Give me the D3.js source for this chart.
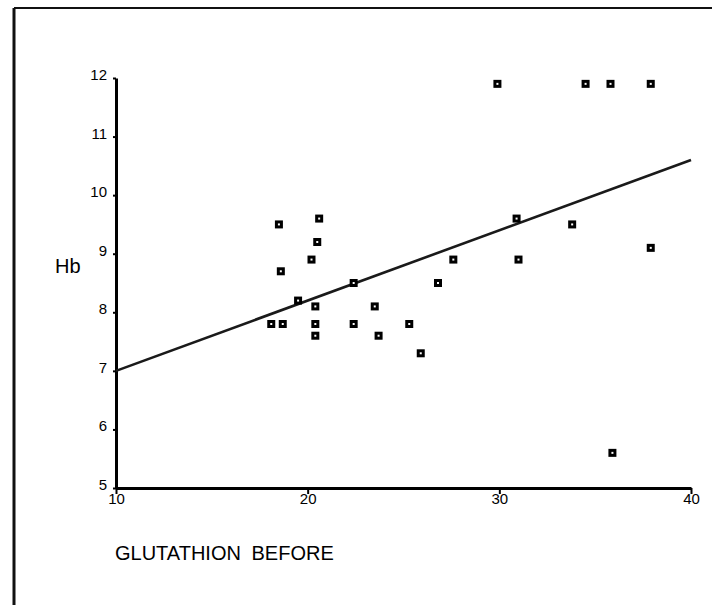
<!DOCTYPE html>
<html>
<head>
<meta charset="utf-8">
<script src="https://cdn.jsdelivr.net/npm/d3@7"></script>
<style>
  body { margin: 0; background: #fff; }
  svg { display: block; font-family: "Liberation Sans", Arial, sans-serif; }
  .axis .domain { stroke: #000; stroke-width: 3; }
  .axis line { stroke: #000; stroke-width: 2; }
  .axis text { fill: #000; font-size: 15px; }
</style>
</head>
<body>
<svg width="712" height="605"></svg>
<script>
// glutathion before vs Hb
const glutathion = [18.5, 18.6, 20.6, 20.5, 20.2, 19.5, 20.4, 18.1, 18.7, 20.4, 20.4, 22.4, 22.4,
                    29.9, 34.5, 35.8, 37.9, 30.9, 33.8, 37.9, 27.6, 31.0, 26.8, 23.5, 25.3, 23.7, 25.9, 35.9]
const hb = [9.5, 8.7, 9.6, 9.2, 8.9, 8.2, 8.1, 7.8, 7.8, 7.8, 7.6, 7.8, 8.5,
            11.9, 11.9, 11.9, 11.9, 9.6, 9.5, 9.1, 8.9, 8.9, 8.5, 8.1, 7.8, 7.6, 7.3, 5.6]

// fitted line end points
const fitX = [10, 40]
const fitY = [7.0, 10.6]

const xTicks = [10, 20, 30, 40]
const yTicks = [5, 6, 7, 8, 9, 10, 11, 12]

var svg = d3.select("svg")

// scan frame (top and left edges)
svg.append("line").attr("x1", 14).attr("y1", 8).attr("x2", 712).attr("y2", 8)
    .attr("stroke", "#111").attr("stroke-width", 2)
svg.append("line").attr("x1", 14).attr("y1", 8).attr("x2", 14).attr("y2", 605)
    .attr("stroke", "#111").attr("stroke-width", 3)

var x = d3.scaleLinear().domain([10, 40]).range([116, 691])
var y = d3.scaleLinear().domain([5, 12]).range([488, 78])

var yAxis = svg.append("g")
    .attr("class", "axis")
    .attr("transform", "translate(116,0)")
    .call(d3.axisLeft(y).tickValues(yTicks).tickFormat(d3.format("d"))
        .tickSize(3).tickSizeOuter(0).tickPadding(6))
yAxis.selectAll("text").attr("dy", "0.1em")

var xAxis = svg.append("g")
    .attr("class", "axis")
    .attr("transform", "translate(0,488)")
    .call(d3.axisBottom(x).tickValues(xTicks).tickFormat(d3.format("d"))
        .tickSize(6).tickSizeOuter(0).tickPadding(-1))

// regression line
svg.append("path")
    .datum(d3.zip(fitX, fitY))
    .attr("fill", "none")
    .attr("stroke", "#1a1a1a")
    .attr("stroke-width", 2.6)
    .attr("d", d3.line().x(function(d) { return x(d[0]) }).y(function(d) { return y(d[1]) }))

// points
svg.append("g")
  .selectAll("rect")
  .data(d3.zip(glutathion, hb))
  .enter().append("rect")
    .attr("x", function(d) { return x(d[0]) - 2.5 })
    .attr("y", function(d) { return y(d[1]) - 2.5 })
    .attr("width", 5)
    .attr("height", 5)
    .attr("fill", "#fff")
    .attr("stroke", "#000")
    .attr("stroke-width", 3)

// axis titles
svg.append("text")
    .attr("x", 55).attr("y", 273)
    .attr("font-size", 20)
    .text("Hb")

svg.append("text")
    .attr("x", 115).attr("y", 560)
    .attr("font-size", 20)
    .attr("word-spacing", 5)
    .text("GLUTATHION BEFORE")
</script>
</body>
</html>
